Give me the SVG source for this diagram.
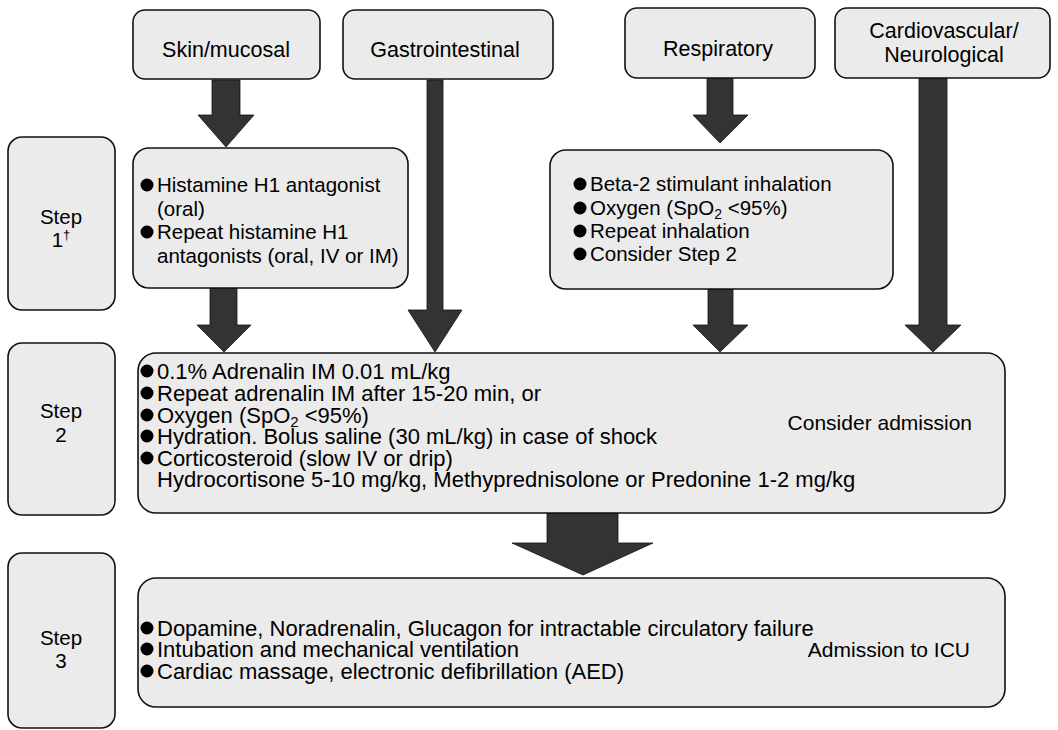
<svg xmlns="http://www.w3.org/2000/svg" width="1058" height="730" viewBox="0 0 1058 730">
<defs>
<style>
.box{fill:#ebebeb;stroke:#111;stroke-width:1.6}
.arr{fill:#333;stroke:#111;stroke-width:0.8}
.lbl{font-family:"Liberation Sans",Arial,Helvetica,sans-serif;font-size:21.5px;fill:#000;text-anchor:middle}
.t1{font-family:"Liberation Sans",Arial,Helvetica,sans-serif;font-size:20.5px;fill:#000}
.t2{font-family:"Liberation Sans",Arial,Helvetica,sans-serif;font-size:22px;fill:#000}
.rt{font-family:"Liberation Sans",Arial,Helvetica,sans-serif;font-size:21px;fill:#000;text-anchor:end}
.stp{font-family:"Liberation Sans",Arial,Helvetica,sans-serif;font-size:20.5px;fill:#000;text-anchor:middle}
.bul{fill:#000}
</style>
</defs>
<rect width="1058" height="730" fill="#fff"/>

<g id="connectors">
<polygon class="arr" points="212,80 240,80 240,115 254,115 226,147 198,115 212,115"/>
<polygon class="arr" points="427,80 443,80 443,310 462,310 435,352 408,310 427,310"/>
<polygon class="arr" points="707,78 733,78 733,115 748,115 720,143 693,115 707,115"/>
<polygon class="arr" points="919,78 947,78 947,325 961,325 933,352 905,325 919,325"/>
<polygon class="arr" points="210,288 237,288 237,325 251,325 224,352 197,325 210,325"/>
<polygon class="arr" points="708,289 733,289 733,325 748,325 720,352 693,325 708,325"/>
<polygon class="arr" points="547,513 618,513 618,543 653,543 583,575 512,543 547,543"/>
</g>

<g id="skin">
<rect class="box" x="133" y="10" width="187" height="69" rx="12"/>
<text class="lbl" x="226" y="57">Skin/mucosal</text>
</g>
<g id="gastro">
<rect class="box" x="343" y="10" width="210" height="69" rx="12"/>
<text class="lbl" x="445" y="57">Gastrointestinal</text>
</g>
<g id="resp">
<rect class="box" x="625" y="8" width="190" height="70" rx="12"/>
<text class="lbl" x="718" y="56">Respiratory</text>
</g>
<g id="cardio">
<rect class="box" x="835" y="8" width="215" height="70" rx="12"/>
<text class="lbl" x="944" y="38">Cardiovascular/</text>
<text class="lbl" x="944" y="62">Neurological</text>
</g>

<g id="step1">
<rect class="box" x="8" y="137" width="107" height="173" rx="14"/>
<text class="stp" x="61" y="224">Step</text>
<text class="stp" x="61" y="247">1<tspan font-size="13" dy="-8">†</tspan></text>
</g>
<g id="skin-step1">
<rect class="box" x="133" y="148" width="275" height="140" rx="16"/>
<circle class="bul" cx="147" cy="185" r="6.5"/>
<text class="t1" x="157" y="192">Histamine H1 antagonist</text>
<text class="t1" x="157" y="216">(oral)</text>
<circle class="bul" cx="147" cy="232" r="6.5"/>
<text class="t1" x="157" y="239">Repeat histamine H1</text>
<text class="t1" x="157" y="263">antagonists (oral, IV or IM)</text>
</g>
<g id="resp-step1">
<rect class="box" x="550" y="150" width="343" height="139" rx="16"/>
<circle class="bul" cx="580" cy="184" r="6.5"/>
<text class="t1" x="590" y="191">Beta-2 stimulant inhalation</text>
<circle class="bul" cx="580" cy="208" r="6.5"/>
<text class="t1" x="590" y="215">Oxygen (SpO<tspan font-size="14" dy="4">2</tspan><tspan dy="-4"> &lt;95%)</tspan></text>
<circle class="bul" cx="580" cy="231" r="6.5"/>
<text class="t1" x="590" y="238">Repeat inhalation</text>
<circle class="bul" cx="580" cy="254" r="6.5"/>
<text class="t1" x="590" y="261">Consider Step 2</text>
</g>

<g id="step2">
<rect class="box" x="8" y="343" width="107" height="172" rx="14"/>
<text class="stp" x="61" y="418">Step</text>
<text class="stp" x="61" y="442">2</text>
</g>
<g id="step2-main">
<rect class="box" x="138" y="353" width="867" height="160" rx="18"/>
<circle class="bul" cx="147" cy="371" r="6.5"/>
<text class="t2" x="157" y="379">0.1% Adrenalin IM 0.01 mL/kg</text>
<circle class="bul" cx="147" cy="393" r="6.5"/>
<text class="t2" x="157" y="401">Repeat adrenalin IM after 15-20 min, or</text>
<circle class="bul" cx="147" cy="415" r="6.5"/>
<text class="t2" x="157" y="423">Oxygen (SpO<tspan font-size="15" dy="4">2</tspan><tspan dy="-4"> &lt;95%)</tspan></text>
<circle class="bul" cx="147" cy="436" r="6.5"/>
<text class="t2" x="157" y="444">Hydration. Bolus saline (30 mL/kg) in case of shock</text>
<circle class="bul" cx="147" cy="458" r="6.5"/>
<text class="t2" x="157" y="466">Corticosteroid (slow IV or drip)</text>
<text class="t2" x="157" y="487">Hydrocortisone 5-10 mg/kg, Methyprednisolone or Predonine 1-2 mg/kg</text>
<text class="rt" x="972" y="430">Consider admission</text>
</g>

<g id="step3">
<rect class="box" x="8" y="553" width="107" height="175" rx="14"/>
<text class="stp" x="61" y="645">Step</text>
<text class="stp" x="61" y="668">3</text>
</g>
<g id="step3-main">
<rect class="box" x="138" y="578" width="867" height="129" rx="18"/>
<circle class="bul" cx="147" cy="628" r="6.5"/>
<text class="t2" x="157" y="636">Dopamine, Noradrenalin, Glucagon for intractable circulatory failure</text>
<circle class="bul" cx="147" cy="649" r="6.5"/>
<text class="t2" x="157" y="657">Intubation and mechanical ventilation</text>
<circle class="bul" cx="147" cy="671" r="6.5"/>
<text class="t2" x="157" y="679">Cardiac massage, electronic defibrillation (AED)</text>
<text class="rt" x="970" y="657" font-size="21.5">Admission to ICU</text>
</g>
</svg>
